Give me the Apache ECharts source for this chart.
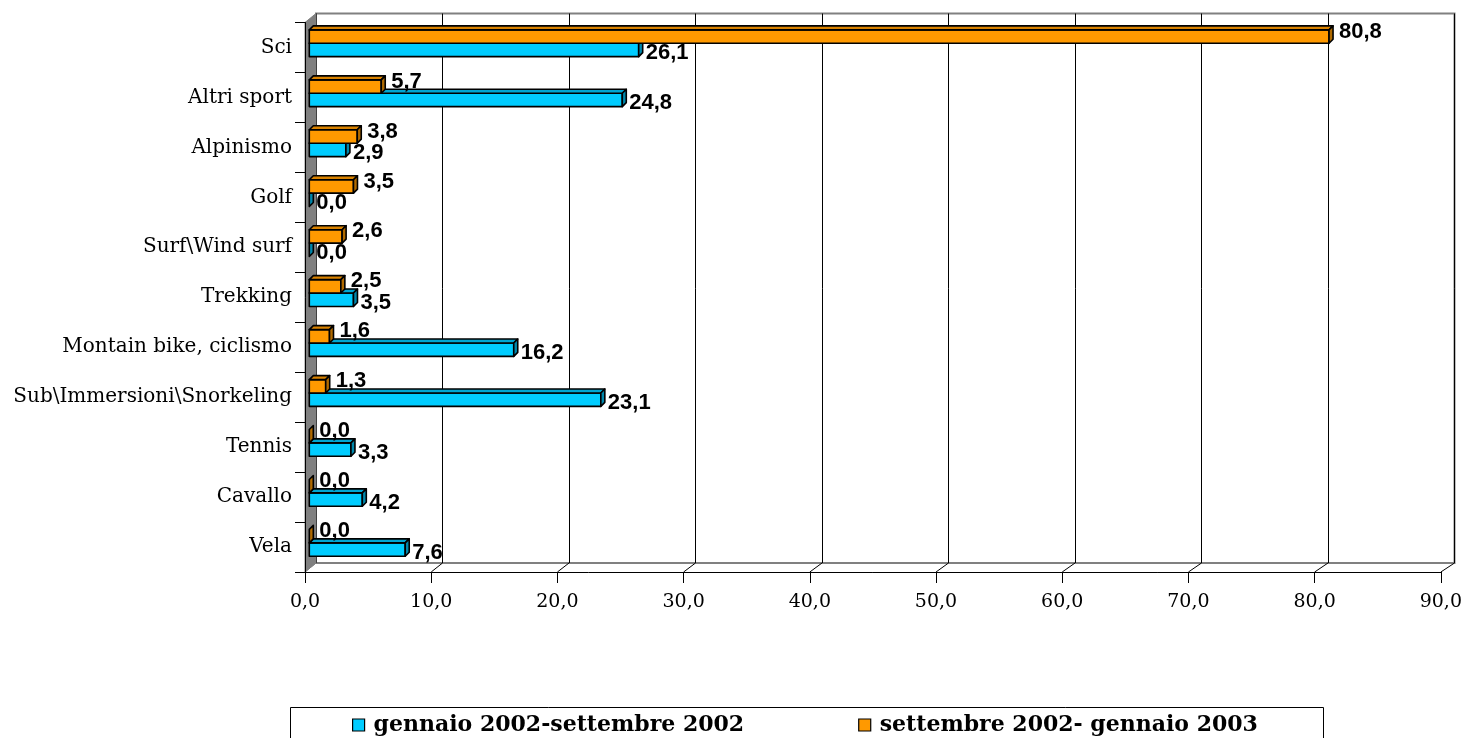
<!DOCTYPE html>
<html>
<head>
<meta charset="utf-8">
<script src="https://cdn.jsdelivr.net/npm/echarts@6/dist/echarts.min.js"></script>
<style>
  html, body { margin: 0; padding: 0; background: #fff; }
  #chart { width: 1465px; height: 738px; }
</style>
</head>
<body>
<div id="chart"></div>
<script>
// Sports practised, two periods (percentages)
const categories = [
  'Sci', 'Altri sport', 'Alpinismo', 'Golf', 'Surf\\Wind surf', 'Trekking',
  'Montain bike, ciclismo', 'Sub\\Immersioni\\Snorkeling', 'Tennis', 'Cavallo', 'Vela'
];
const seriesNames = ['gennaio 2002-settembre 2002', 'settembre 2002- gennaio 2003'];
const valuesJanSep = [26.1, 24.8, 2.9, 0.0, 0.0, 3.5, 16.2, 23.1, 3.3, 4.2, 7.6];
const valuesSepJan = [80.8, 5.7, 3.8, 3.5, 2.6, 2.5, 1.6, 1.3, 0.0, 0.0, 0.0];
const axisMin = 0, axisMax = 90, axisStep = 10;

// Layout of the pseudo-3D box
const W = 1465, H = 738;
const FRONT = { left: 305, top: 22.5, right: 21.5, bottom: 166 };
const DEPTH = [11, -9];
const BACK = {
  left: FRONT.left + DEPTH[0], top: FRONT.top + DEPTH[1],
  right: FRONT.right - DEPTH[0], bottom: FRONT.bottom - DEPTH[1]
};
const BAR_SHIFT = 4.3;      // bars sit a little inside the box
const BAR_DEPTH = [4, -4];

const palette = {
  blue:   { front: '#00CCFF', top: '#00A6D2', side: '#0088AC' },
  orange: { front: '#FF9900', top: '#D98200', side: '#B06A00' }
};

const fmt = v => v.toFixed(1).replace('.', ',');
const serifFont = '"DejaVu Serif", "Liberation Serif", serif';
const labelFont = 'bold 22px "Liberation Sans", Arial, sans-serif';

function makeRender(upper, colors) {
  return function (params, api) {
    const ci = api.value(1);
    const v = api.value(0);
    const p0 = api.coord([0, ci]);
    const p1 = api.coord([v, ci]);
    const band = api.size([0, 1])[1];
    const h = band * 0.268;
    const split = p0[1] - band * 0.084;
    const y0 = upper ? split - h : split;
    const y1 = y0 + h;
    const x0 = p0[0] + BAR_SHIFT;
    const x1 = p1[0] + BAR_SHIFT;
    const dx = BAR_DEPTH[0], dy = BAR_DEPTH[1];
    const stroke = { stroke: '#000', lineWidth: 1.6, lineJoin: 'round' };
    const children = [];
    if (x1 - x0 > 0.3) {
      children.push({ type: 'polygon', shape: { points: [[x0, y0], [x1, y0], [x1, y1], [x0, y1]] },
        style: Object.assign({ fill: colors.front }, stroke) });
      children.push({ type: 'polygon', shape: { points: [[x0, y0], [x0 + dx, y0 + dy], [x1 + dx, y0 + dy], [x1, y0]] },
        style: Object.assign({ fill: colors.top }, stroke) });
    }
    children.push({ type: 'polygon', shape: { points: [[x1, y0], [x1 + dx, y0 + dy], [x1 + dx, y1 + dy], [x1, y1]] },
      style: Object.assign({ fill: colors.side }, stroke) });
    const lx = x1 + dx + (upper ? 6 : 3);
    const ly = (y0 + y1) / 2 + (upper ? -5 : 3);
    children.push({ type: 'text', x: lx, y: ly,
      style: { text: fmt(v), font: labelFont, fill: '#000', align: 'left', verticalAlign: 'middle' } });
    return { type: 'group', children: children };
  };
}

const chart = echarts.init(document.getElementById('chart'), null, { renderer: 'canvas' });

chart.setOption({
  animation: false,
  backgroundColor: '#fff',
  grid: [
    Object.assign({ show: false }, FRONT),
    Object.assign({ show: true, backgroundColor: '#fff', borderColor: '#808080', borderWidth: 2 }, BACK)
  ],
  xAxis: [
    {
      type: 'value', gridIndex: 0, min: axisMin, max: axisMax, interval: axisStep, z: 6,
      axisLine: { show: true, lineStyle: { color: '#000', width: 1 } },
      axisTick: { show: true, length: 11, lineStyle: { color: '#000' } },
      axisLabel: { formatter: fmt, color: '#000', fontFamily: serifFont, fontSize: 19, margin: 21 },
      splitLine: { show: false }
    },
    {
      type: 'value', gridIndex: 1, min: axisMin, max: axisMax, interval: axisStep,
      axisLine: { show: false }, axisTick: { show: false }, axisLabel: { show: false },
      splitLine: { show: true, lineStyle: { color: '#000', width: 1 } }
    }
  ],
  yAxis: [
    {
      type: 'category', gridIndex: 0, data: categories, inverse: true, z: 6,
      axisLine: { show: true, lineStyle: { color: '#000', width: 1 } },
      axisTick: { show: true, length: 10, lineStyle: { color: '#000' } },
      axisLabel: { color: '#000', fontFamily: serifFont, fontSize: 20, margin: 13 }
    },
    { type: 'category', gridIndex: 1, data: categories, inverse: true, show: false }
  ],
  legend: {
    data: seriesNames,
    left: 352, top: 714, padding: 0,
    icon: 'rect', itemWidth: 12, itemHeight: 12, itemGap: 114,
    itemStyle: { borderColor: '#000', borderWidth: 1.2 },
    textStyle: { color: '#000', fontFamily: serifFont, fontWeight: 'bold', fontSize: 22, padding: [0, 0, 0, 4] },
    selectedMode: false
  },
  series: [
    {
      name: seriesNames[0], type: 'custom', z: 10,
      xAxisIndex: 0, yAxisIndex: 0,
      itemStyle: { color: palette.blue.front },
      renderItem: makeRender(false, palette.blue),
      data: valuesJanSep.map((v, i) => [v, i])
    },
    {
      name: seriesNames[1], type: 'custom', z: 10,
      xAxisIndex: 0, yAxisIndex: 0,
      itemStyle: { color: palette.orange.front },
      renderItem: makeRender(true, palette.orange),
      data: valuesSepJan.map((v, i) => [v, i])
    }
  ]
});

// Side wall, floor edges and legend frame
const fL = FRONT.left, fT = FRONT.top, fB = H - FRONT.bottom;
const bL = BACK.left, bT = BACK.top, bB = H - BACK.bottom;
const graphics = [
  { type: 'polygon', z: 5, shape: { points: [[fL, fT], [bL, bT], [bL, bB], [fL, fB]] },
    style: { fill: '#808080', stroke: '#808080', lineWidth: 1 } },
  { type: 'rect', z: 5, shape: { x: 290.5, y: 707.5, width: 1033, height: 60 },
    style: { fill: 'none', stroke: '#000', lineWidth: 1 } }
];
for (let t = axisMin; t <= axisMax; t += axisStep) {
  const xf = chart.convertToPixel({ xAxisIndex: 0 }, t);
  const xb = chart.convertToPixel({ xAxisIndex: 1 }, t);
  graphics.push({ type: 'line', z: 5, shape: { x1: xb, y1: bB, x2: xf, y2: fB },
    style: { stroke: t === axisMin ? '#808080' : '#000', lineWidth: 1 } });
}
chart.setOption({ graphic: graphics });
</script>
</body>
</html>
